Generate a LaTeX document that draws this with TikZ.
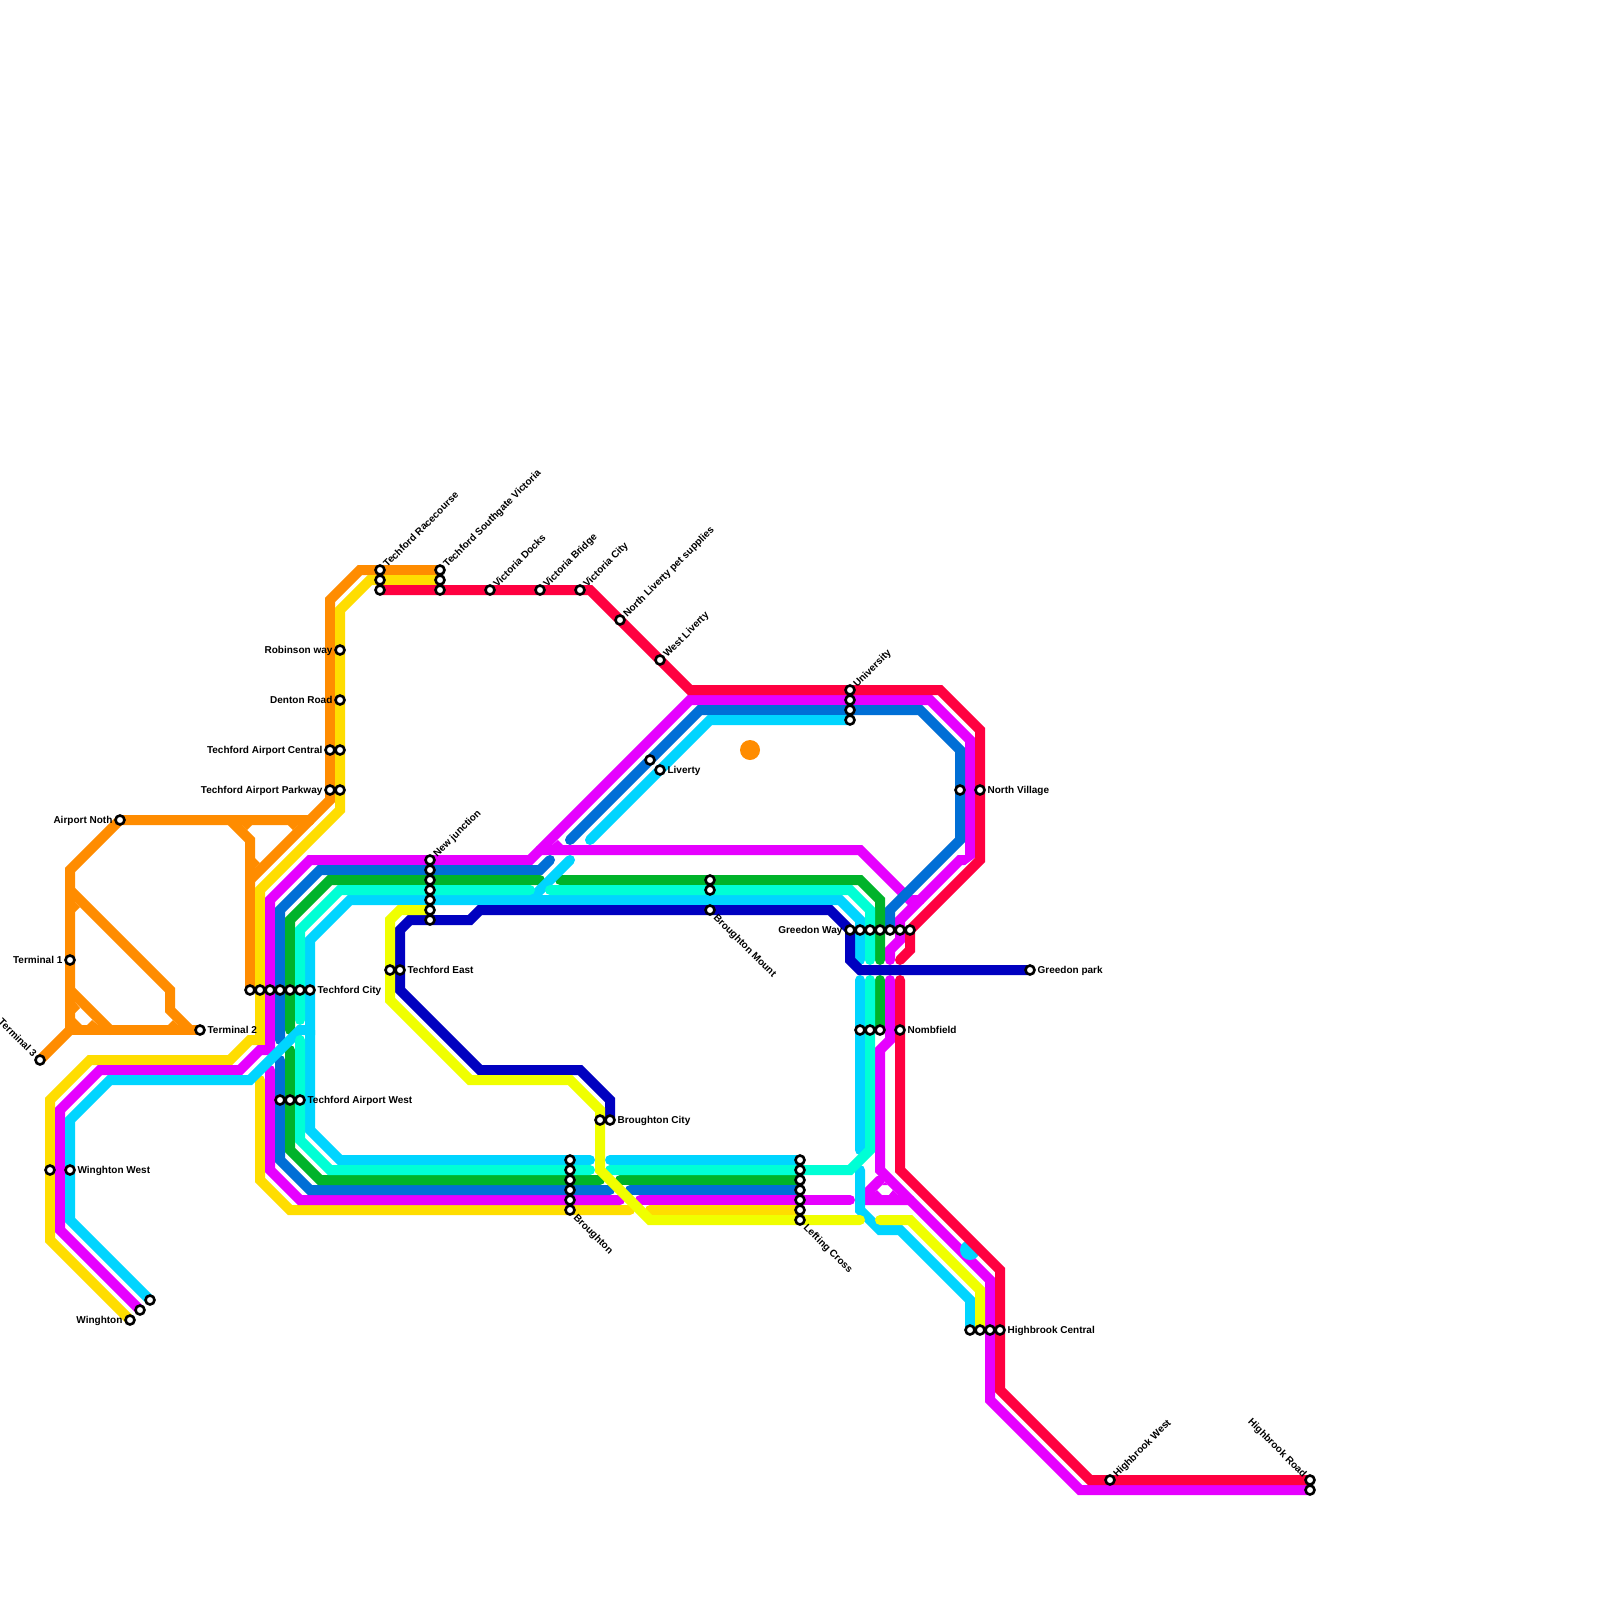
\documentclass[tikz,border=0pt]{standalone}
\usepackage{fontspec}
\setmainfont{Liberation Sans}
\definecolor{cOrange}{HTML}{FF8C00}
\definecolor{cYellow}{HTML}{FFDD00}
\definecolor{cMagenta}{HTML}{E600FF}
\definecolor{cBlue}{HTML}{006FD6}
\definecolor{cGreen}{HTML}{00B32A}
\definecolor{cTeal}{HTML}{00FFD5}
\definecolor{cCyan}{HTML}{00D5FF}
\definecolor{cLime}{HTML}{F0FF00}
\definecolor{cNavy}{HTML}{0000C0}
\definecolor{cRed}{HTML}{FF0040}
\tikzset{
  route/.style={line width=5pt,line cap=round,line join=miter,miter limit=10},
  orangeR/.style={route,draw=cOrange},
  yellowR/.style={route,draw=cYellow},
  magentaR/.style={route,draw=cMagenta},
  blueR/.style={route,draw=cBlue},
  greenR/.style={route,draw=cGreen},
  tealR/.style={route,draw=cTeal},
  cyanR/.style={route,draw=cCyan},
  limeR/.style={route,draw=cLime},
  navyR/.style={route,draw=cNavy},
  redR/.style={route,draw=cRed},
  stn/.style={circle,draw=black,fill=white,line width=1.3pt,inner sep=0pt,outer sep=0pt,minimum size=4.5pt},
  lbl/.style={font=\bfseries\fontsize{5}{6}\selectfont,inner sep=0pt,text height=3.6pt,text depth=0pt,text=black},
  lblR/.style={lbl,anchor=west,xshift=3.6pt,yshift=.25pt},
  lblL/.style={lbl,anchor=east,xshift=-3.6pt,yshift=.25pt},
  lblU/.style={lbl,rotate=45,anchor=west,xshift=3.2pt},
  lblD/.style={lbl,rotate=-45,anchor=west,xshift=3.8pt},
  lblB/.style={lbl,rotate=-45,anchor=east,xshift=-3.2pt},
}
\newcommand{\stnrow}[1]{\foreach \nm/\px/\py in {#1}{\node[stn] (\nm) at (\px,\py) {};}}
\begin{document}
\begin{tikzpicture}[x=.5pt,y=-.5pt]
\useasboundingbox (0,0) rectangle (1600,1600);
\fill[white] (0,0) rectangle (1600,1600);
% orange
\fill[cOrange] (750,750) circle (10);
\draw[orangeR] (40,1060) -- (70,1030) -- (70,870) -- (120,820) -- (310,820) -- (330,800) -- (330,600) -- (360,570) -- (440,570);
\draw[orangeR] (70,1030) -- (200,1030);
\draw[orangeR] (70,890) -- (170,990) -- (170,1010) -- (190,1030);
\draw[orangeR] (70,990) -- (110,1030);
\draw[orangeR] (230,820) -- (250,840) -- (250,990);
\draw[orangeR] (250,880) -- (310,820);
\fill[cOrange] (75,1002) -- (75,1013) -- (80,1008) -- cycle;
\fill[cOrange] (98,1025) -- (87,1025) -- (92,1020) -- cycle;
\fill[cOrange] (75,1018) -- (75,1025) -- (82,1025) -- cycle;
\fill[cOrange] (75,902) -- (75,912) -- (80,907) -- cycle;
\fill[cOrange] (178,1025) -- (168,1025) -- (173,1020) -- cycle;
\fill[cOrange] (242,825) -- (252,825) -- (247,830) -- cycle;
\fill[cOrange] (298,825) -- (288,825) -- (293,830) -- cycle;
\fill[cOrange] (255,868) -- (255,858) -- (260,863) -- cycle;
% yellow
\draw[yellowR] (130,1320) -- (50,1240) -- (50,1100) -- (90,1060) -- (230,1060) -- (250,1040) -- (260,1040) -- (260,890) -- (340,810) -- (340,610) -- (370,580) -- (440,580);
\draw[yellowR] (260,1080) -- (260,1180) -- (290,1210) -- (630,1210);
\draw[yellowR] (650,1210) -- (800,1210);
% magenta
\draw[magentaR] (140,1310) -- (60,1230) -- (60,1110) -- (100,1070) -- (240,1070) -- (260,1050) -- (270,1050) -- (270,900) -- (310,860) -- (530,860) -- (690,700) -- (930,700) -- (970,740) -- (970,860) -- (960,860) -- (900,920) -- (900,940) -- (890,950) -- (890,960);
\fill[white] (976,857) -- (976,866) -- (964,866) -- cycle;
\draw[magentaR] (540,850) -- (860,850) -- (910,900) -- (920,900);
\fill[cMagenta] (552,845) -- (563,845) -- (558,840) -- cycle;
\draw[magentaR] (270,1070) -- (270,1170) -- (300,1200) -- (620,1200);
\draw[magentaR] (640,1200) -- (850,1200);
\draw[magentaR] (890,980) -- (890,1040) -- (880,1050) -- (880,1170) -- (990,1280) -- (990,1400) -- (1080,1490) -- (1310,1490);
\draw[magentaR] (880,1180) -- (870,1190) -- (870,1200) -- (910,1200);
\fill[cMagenta] (885,1182) -- (882,1185) -- (888,1185) -- cycle;
\fill[cMagenta] (872,1195) -- (882,1195) -- (877,1190) -- cycle;
\fill[cMagenta] (898,1195) -- (889,1195) -- (893,1190) -- cycle;
% blue
\draw[blueR] (570,840) -- (700,710) -- (920,710) -- (960,750) -- (960,840) -- (890,910) -- (890,930);
\draw[blueR] (550,860) -- (540,870) -- (320,870) -- (280,910) -- (280,1040);
\draw[blueR] (280,1060) -- (280,1160) -- (310,1190) -- (610,1190);
\draw[blueR] (630,1190) -- (800,1190);
% green
\draw[greenR] (540,880) -- (330,880) -- (290,920) -- (290,1030);
\draw[greenR] (290,1050) -- (290,1150) -- (320,1180) -- (600,1180);
\draw[greenR] (620,1180) -- (800,1180);
\draw[greenR] (560,880) -- (860,880) -- (880,900) -- (880,960);
\draw[greenR] (880,980) -- (880,1030);
% cyan
\draw[cyanR] (150,1300) -- (70,1220) -- (70,1120) -- (110,1080) -- (250,1080) -- (300,1030) -- (310,1030) -- (310,940) -- (350,900) -- (840,900) -- (860,920) -- (860,960);
\draw[cyanR] (310,1030) -- (310,1130) -- (340,1160) -- (590,1160);
\draw[cyanR] (610,1160) -- (800,1160);
\draw[cyanR] (570,860) -- (530,900);
\draw[cyanR] (590,840) -- (710,720) -- (850,720);
\draw[cyanR] (860,980) -- (860,1150);
\draw[cyanR] (860,1170) -- (860,1210) -- (880,1230) -- (900,1230) -- (970,1300) -- (970,1330);
\fill[cCyan] (970,1250) circle (10);
% teal
\draw[tealR] (530,890) -- (340,890) -- (300,930) -- (300,1020);
\draw[tealR] (300,1040) -- (300,1140) -- (330,1170) -- (590,1170);
\draw[tealR] (610,1170) -- (850,1170) -- (870,1150) -- (870,980);
\draw[tealR] (550,890) -- (850,890) -- (870,910) -- (870,960);
% red
\draw[redR] (380,590) -- (590,590) -- (690,690) -- (940,690) -- (980,730) -- (980,860) -- (910,930) -- (910,950) -- (900,960);
\draw[redR] (900,980) -- (900,1170) -- (1000,1270) -- (1000,1390) -- (1090,1480) -- (1310,1480);
% navy
\draw[navyR] (610,1120) -- (610,1100) -- (580,1070) -- (480,1070) -- (400,990) -- (400,930) -- (410,920) -- (470,920) -- (480,910) -- (830,910) -- (850,930) -- (850,960) -- (860,970) -- (1030,970);
% lime
\draw[limeR] (430,910) -- (400,910) -- (390,920) -- (390,1000) -- (470,1080) -- (570,1080) -- (600,1110) -- (600,1170) -- (650,1220) -- (860,1220);
\draw[limeR] (880,1220) -- (910,1220) -- (980,1290) -- (980,1330);
% stations
\stnrow{
 a1/380/570,a2/380/580,a3/380/590,b1/440/570,b2/440/580,b3/440/590,
 vd/490/590,vb/540/590,vc/580/590,nl/620/620,wl/660/660,
 rw/340/650,dr/340/700,tc1/330/750,tc2/340/750,tp1/330/790,tp2/340/790,
 an/120/820,t1/70/960,t2/200/1030,t3/40/1060,
 tf1/250/990,tf2/260/990,tf3/270/990,tf4/280/990,tf5/290/990,tf6/300/990,tf7/310/990,
 tw1/280/1100,tw2/290/1100,tw3/300/1100,
 ww1/50/1170,ww2/70/1170,wg1/130/1320,wg2/140/1310,wg3/150/1300,
 nj1/430/860,nj2/430/870,nj3/430/880,nj4/430/890,nj5/430/900,nj6/430/910,nj7/430/920,
 te1/390/970,te2/400/970,
 bc1/600/1120,bc2/610/1120,
 br1/570/1160,br2/570/1170,br3/570/1180,br4/570/1190,br5/570/1200,br6/570/1210,
 lc1/800/1160,lc2/800/1170,lc3/800/1180,lc4/800/1190,lc5/800/1200,lc6/800/1210,lc7/800/1220,
 bm1/710/880,bm2/710/890,bm3/710/910,
 u1/850/690,u2/850/700,u3/850/710,u4/850/720,
 li1/650/760,li2/660/770,
 nv1/960/790,nv2/980/790,
 gw1/850/930,gw2/860/930,gw3/870/930,gw4/880/930,gw5/890/930,gw6/900/930,gw7/910/930,
 gp/1030/970,
 nf1/860/1030,nf2/870/1030,nf3/880/1030,nf4/900/1030,
 hc1/970/1330,hc2/980/1330,hc3/990/1330,hc4/1000/1330,
 hw/1110/1480,hr1/1310/1480,hr2/1310/1490}
% labels
\node[lblU] (Lrace) at (a1) {Techford Racecourse};
\node[lblU] (Lsv) at (b1) {Techford Southgate Victoria};
\node[lblU] (Lvd) at (vd) {Victoria Docks};
\node[lblU] (Lvb) at (vb) {Victoria Bridge};
\node[lblU] (Lvc) at (vc) {Victoria City};
\node[lblU] (Lnl) at (nl) {North Liverty pet supplies};
\node[lblU] (Lwl) at (wl) {West Liverty};
\node[lblU] (Lun) at (u1) {University};
\node[lblU] (Lnj) at (nj1) {New junction};
\node[lblU] (Lhw) at (hw) {Highbrook West};
\node[lblL] (Lrw) at (rw) {Robinson way};
\node[lblL] (Ldr) at (dr) {Denton Road};
\node[lblL] (Ltc) at (tc1) {Techford Airport Central};
\node[lblL] (Ltp) at (tp1) {Techford Airport Parkway};
\node[lblL] (Lan) at (an) {Airport Noth};
\node[lblL] (Lt1) at (t1) {Terminal 1};
\node[lblR] (Lt2) at (t2) {Terminal 2};
\node[lblB] (Lt3) at (t3) {Terminal 3};
\node[lblR] (Ltf) at (tf7) {Techford City};
\node[lblR] (Ltw) at (tw3) {Techford Airport West};
\node[lblR] (Lww) at (ww2) {Winghton West};
\node[lblL] (Lwg) at (wg1) {Winghton};
\node[lblR] (Lte) at (te2) {Techford East};
\node[lblR] (Lbc) at (bc2) {Broughton City};
\node[lblD] (Lbr) at (br6) {Broughton};
\node[lblD] (Llc) at (lc7) {Lefting Cross};
\node[lblD] (Lbm) at (bm3) {Broughton Mount};
\node[lblR] (Lli) at (li2) {Liverty};
\node[lblR] (Lnv) at (nv2) {North Village};
\node[lblL] (Lgw) at (gw1) {Greedon Way};
\node[lblR] (Lgp) at (gp) {Greedon park};
\node[lblR] (Lnf) at (nf4) {Nombfield};
\node[lblR] (Lhc) at (hc4) {Highbrook Central};
\node[lblB] (Lhr) at (hr1) {Highbrook Road};
\end{tikzpicture}
\end{document}
